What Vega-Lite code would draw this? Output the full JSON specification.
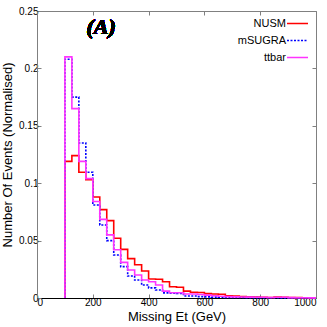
{
  "$schema": "https://vega.github.io/schema/vega-lite/v6.json",
  "autosize": {"type": "none"},
  "padding": {"left": 37, "top": 11, "right": 11, "bottom": 29},
  "width": 279,
  "height": 287,
  "background": "white",
  "config": {
    "view": {"stroke": "#808080", "strokeWidth": 1},
    "axis": {
      "grid": false,
      "labelFont": "Liberation Sans",
      "labelFontSize": 10,
      "labelColor": "#000",
      "titleFont": "Liberation Sans",
      "titleFontSize": 13,
      "titleFontWeight": "normal",
      "titleColor": "#000",
      "tickColor": "#808080",
      "domainColor": "#808080",
      "tickSize": -4,
      "labelPadding": 3
    }
  },
  "data": {
    "values": [
      {"x": 100, "NUSM": 0, "mSUGRA": 0, "ttbar": 0},
      {"x": 100, "NUSM": 0.119, "mSUGRA": 0.208, "ttbar": 0.21},
      {"x": 125, "NUSM": 0.124, "mSUGRA": 0.175, "ttbar": 0.165},
      {"x": 150, "NUSM": 0.1095, "mSUGRA": 0.135, "ttbar": 0.119},
      {"x": 175, "NUSM": 0.103, "mSUGRA": 0.1095, "ttbar": 0.104},
      {"x": 200, "NUSM": 0.088, "mSUGRA": 0.081, "ttbar": 0.084},
      {"x": 225, "NUSM": 0.077, "mSUGRA": 0.0636, "ttbar": 0.0685},
      {"x": 250, "NUSM": 0.0674, "mSUGRA": 0.05, "ttbar": 0.055},
      {"x": 275, "NUSM": 0.052, "mSUGRA": 0.0375, "ttbar": 0.042},
      {"x": 300, "NUSM": 0.0424, "mSUGRA": 0.0273, "ttbar": 0.031},
      {"x": 325, "NUSM": 0.0343, "mSUGRA": 0.0192, "ttbar": 0.0244},
      {"x": 350, "NUSM": 0.029, "mSUGRA": 0.0157, "ttbar": 0.02},
      {"x": 375, "NUSM": 0.0235, "mSUGRA": 0.0113, "ttbar": 0.0157},
      {"x": 400, "NUSM": 0.0165, "mSUGRA": 0.0088, "ttbar": 0.0142},
      {"x": 425, "NUSM": 0.0163, "mSUGRA": 0.007, "ttbar": 0.0113},
      {"x": 450, "NUSM": 0.0142, "mSUGRA": 0.0045, "ttbar": 0.006},
      {"x": 475, "NUSM": 0.0098, "mSUGRA": 0.0042, "ttbar": 0.0046},
      {"x": 500, "NUSM": 0.0094, "mSUGRA": 0.004, "ttbar": 0.0046},
      {"x": 525, "NUSM": 0.006, "mSUGRA": 0.0018, "ttbar": 0.0035},
      {"x": 550, "NUSM": 0.005, "mSUGRA": 0.0017, "ttbar": 0.0035},
      {"x": 575, "NUSM": 0.0048, "mSUGRA": 0.0012, "ttbar": 0.003},
      {"x": 600, "NUSM": 0.0038, "mSUGRA": 0.001, "ttbar": 0.0025},
      {"x": 625, "NUSM": 0.0035, "mSUGRA": 0.0008, "ttbar": 0.002},
      {"x": 650, "NUSM": 0.0033, "mSUGRA": 0.0006, "ttbar": 0.0015},
      {"x": 675, "NUSM": 0.002, "mSUGRA": 0.0005, "ttbar": 0.0012},
      {"x": 700, "NUSM": 0.0018, "mSUGRA": 0.0004, "ttbar": 0.001},
      {"x": 725, "NUSM": 0.0012, "mSUGRA": 0.0004, "ttbar": 0.0009},
      {"x": 750, "NUSM": 0.001, "mSUGRA": 0.0003, "ttbar": 0.0008},
      {"x": 775, "NUSM": 0.0009, "mSUGRA": 0.0003, "ttbar": 0.0007},
      {"x": 800, "NUSM": 0.0007, "mSUGRA": 0.0002, "ttbar": 0.0006},
      {"x": 825, "NUSM": 0.0005, "mSUGRA": 0.0002, "ttbar": 0.0005},
      {"x": 850, "NUSM": 0.0008, "mSUGRA": 0.0002, "ttbar": 0.0007},
      {"x": 875, "NUSM": 0.0007, "mSUGRA": 0.0001, "ttbar": 0.0006},
      {"x": 900, "NUSM": 0.0004, "mSUGRA": 0.0001, "ttbar": 0.0003},
      {"x": 925, "NUSM": 0.0003, "mSUGRA": 0.0001, "ttbar": 0.0002},
      {"x": 950, "NUSM": 0.0002, "mSUGRA": 0.0001, "ttbar": 0.0002},
      {"x": 975, "NUSM": 0.0002, "mSUGRA": 0.0001, "ttbar": 0.0001},
      {"x": 1000, "NUSM": 0.0002, "mSUGRA": 0.0001, "ttbar": 0.0001}
    ]
  },
  "transform": [
    {"fold": ["NUSM", "mSUGRA", "ttbar"], "as": ["s", "y"]}
  ],
  "layer": [
    {
      "mark": {"type": "line", "interpolate": "step-after", "strokeWidth": 1.6},
      "encoding": {
        "x": {
          "field": "x", "type": "quantitative",
          "scale": {"domain": [0, 1000], "nice": false},
          "axis": {"orient": "bottom", "values": [0, 200, 400, 600, 800, 1000], "format": "d", "title": "Missing Et (GeV)", "titlePadding": 3, "domainColor": "#000"}
        },
        "y": {
          "field": "y", "type": "quantitative",
          "scale": {"domain": [0, 0.25], "nice": false},
          "axis": {"orient": "left", "values": [0, 0.05, 0.1, 0.15, 0.2, 0.25], "format": "~g", "title": "Number Of Events (Normalised)", "titlePadding": 4}
        },
        "order": [{"field": "x", "type": "quantitative"}, {"field": "y", "type": "quantitative"}],
        "color": {
          "field": "s", "type": "nominal",
          "scale": {"domain": ["NUSM", "mSUGRA", "ttbar"], "range": ["#ff0000", "#0000ff", "#ff33ff"]},
          "legend": {
            "title": null, "orient": "none", "legendX": 249, "legendY": 1, "padding": 0,
            "symbolType": "stroke", "symbolSize": 441, "symbolStrokeWidth": 1.5,
            "labelAlign": "right", "labelOffset": -23, "labelFont": "Liberation Sans",
            "labelFontSize": 11, "labelColor": "#000", "rowPadding": -5
          }
        },
        "strokeDash": {
          "field": "s", "type": "nominal",
          "scale": {"domain": ["NUSM", "mSUGRA", "ttbar"], "range": [[1, 0], [2, 1.5], [1, 0]]},
          "legend": null
        }
      }
    },
    {
      "mark": {"type": "text", "font": "Liberation Serif", "fontSize": 22, "fontWeight": "bold", "fontStyle": "italic", "baseline": "middle", "align": "center"},
      "encoding": {
        "x": {"datum": 230, "type": "quantitative", "axis": null},
        "y": {"datum": 0.236, "type": "quantitative", "axis": null},
        "text": {"value": "(A)"}
      }
    },
    {
      "mark": {"type": "point", "opacity": 0},
      "encoding": {
        "x": {"field": "x", "type": "quantitative", "axis": {"orient": "top", "values": [0, 200, 400, 600, 800, 1000], "labels": false, "domain": false, "title": null}},
        "y": {"field": "y", "type": "quantitative", "axis": {"orient": "right", "values": [0, 0.05, 0.1, 0.15, 0.2, 0.25], "labels": false, "domain": false, "title": null}}
      }
    }
  ],
  "resolve": {"axis": {"x": "independent", "y": "independent"}}
}
